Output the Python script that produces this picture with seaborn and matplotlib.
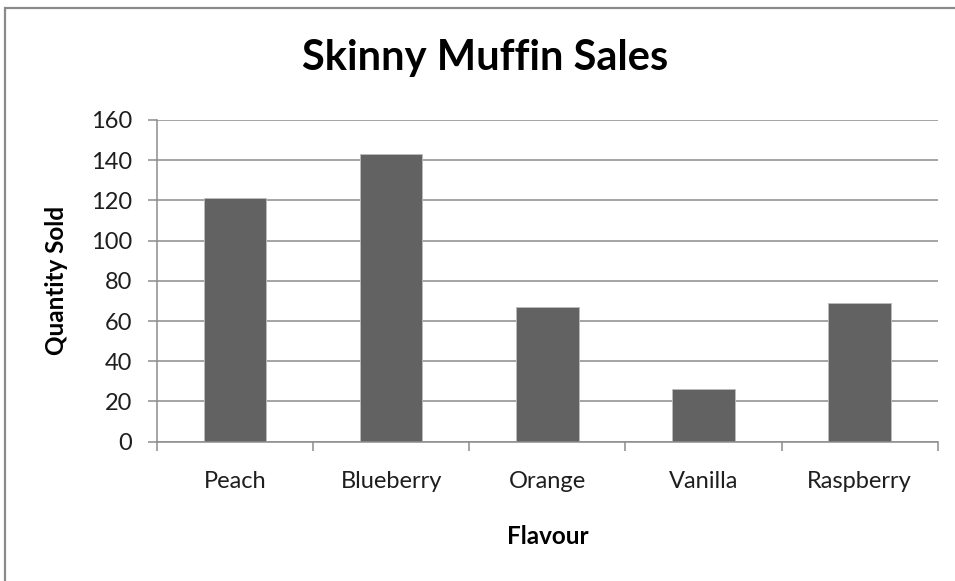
import numpy as np
import matplotlib
matplotlib.use("Agg")
import matplotlib.pyplot as plt
import matplotlib.patches as mpatches
import pandas as pd
import seaborn as sns

# values
flavours = ["Peach", "Blueberry", "Orange", "Vanilla", "Raspberry"]
quantity = [121, 143, 67, 26, 69]
y_ticks = [0, 20, 40, 60, 80, 100, 120, 140, 160]

df = pd.DataFrame({"Flavour": flavours, "Quantity Sold": quantity})

sns.set_theme(style="white")
plt.rcParams["font.family"] = ["Lato", "DejaVu Sans"]

fig = plt.figure(figsize=(9.55, 5.81), dpi=100)
ax = fig.add_axes([0.1644, 0.2398, 0.982 - 0.1644, 0.7935 - 0.2398])

sns.barplot(data=df, x="Flavour", y="Quantity Sold", ax=ax,
            color="#626262", width=0.4, edgecolor="#bdbdbd", linewidth=0.6,
            saturation=1)

ax.set_ylim(0, 160)
ax.set_xlim(-0.5, 4.5)
ax.set_yticks(y_ticks)
ax.yaxis.grid(True, color="#8c8c8c", linewidth=1.1)
ax.set_axisbelow(True)

for s in ["top", "right"]:
    ax.spines[s].set_visible(False)
for s in ["left", "bottom"]:
    ax.spines[s].set_color("#8c8c8c")
    ax.spines[s].set_linewidth(1.1)

# category labels without ticks, boundary ticks as minor
ax.set_xticks(range(len(flavours)))
ax.set_xticklabels(flavours)
ax.set_xticks(np.arange(-0.5, len(flavours), 1.0), minor=True)
ax.tick_params(axis="x", which="major", length=0, pad=21, labelsize=17, labelcolor="#1e1e1e")
ax.tick_params(axis="x", which="minor", length=6.5, width=1.1, color="#8c8c8c", bottom=True)
ax.tick_params(axis="y", which="major", length=6.5, width=1.1, color="#8c8c8c", left=True,
               pad=11.5, labelsize=17, labelcolor="#1e1e1e")

ax.set_xlabel("Flavour", fontsize=17.5, fontweight="bold", color="#000000")
ax.set_ylabel("Quantity Sold", fontsize=17.5, fontweight="bold", color="#000000")
ax.xaxis.set_label_coords(0.5, -0.258)
ax.yaxis.set_label_coords(-0.114, 0.5)

fig.suptitle("Skinny Muffin Sales", x=0.5077, y=1 - 70 / 581, va="baseline",
             fontsize=30, fontweight="bold", color="#000000")

# outer chart border, cut off at right and bottom like the source
fig.patches.append(mpatches.Rectangle((5 / 955, -0.1), 1.2, 1 - 8 / 581 + 0.1,
                                      transform=fig.transFigure, fill=False,
                                      edgecolor="#8a8a8a", linewidth=1.6))

fig.savefig("out.png", dpi=100)
